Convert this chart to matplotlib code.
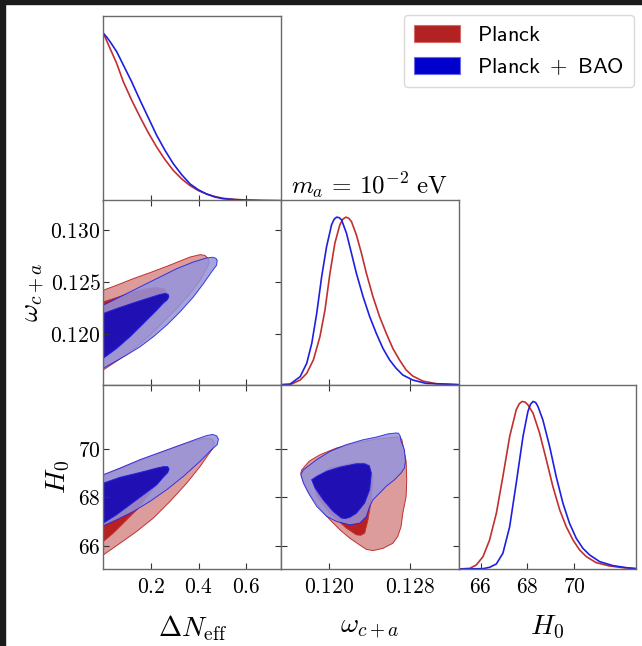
import numpy as np
import matplotlib
matplotlib.use("Agg")
import matplotlib.pyplot as plt
from matplotlib.patches import Rectangle, Patch

plt.rcParams["mathtext.fontset"] = "cm"
plt.rcParams["font.family"] = ["DejaVu Sans"]

# ---- 1D marginals ----
dneff_x_pl = [0, .014, .028, .042, .056, .070, .084, .119, .154, .189, .224, .259, .294, .329, .364, .399, .433, .468, .503, .552, .601, .67, .745]
dneff_p_pl = [1, .955, .91, .865, .82, .765, .71, .60, .50, .405, .32, .245, .18, .13, .09, .06, .04, .025, .014, .008, .004, .001, 0]
dneff_x_bao = [0, .014, .028, .042, .056, .070, .084, .119, .154, .189, .224, .259, .294, .329, .364, .399, .433, .468, .503, .552, .601, .67, .745]
dneff_p_bao = [1, .977, .95, .92, .89, .85, .81, .71, .60, .495, .39, .30, .22, .155, .10, .065, .04, .022, .012, .006, .003, .001, 0]

om_x_pl = [.1152, .11611, .11710, .11775, .11841, .11906, .11956, .12005, .12054, .12103, .12132, .12162, .12190, .12218,
           .12267, .12317, .12366, .12431, .12497, .12563, .12628, .12694, .12760, .12825, .12924, .13055, .1328]
om_p_pl = [0, 0, .028, .068, .148, .287, .446, .665, .845, .954, .987, 1.0, .994, .974,
           .894, .785, .665, .526, .406, .307, .217, .148, .088, .052, .022, .006, 0]
om_x_bao = [.1152, .11611, .11710, .11775, .11825, .11874, .11923, .11972, .12021, .12046, .12071, .12096, .12120, .12169,
            .12218, .12267, .12333, .12399, .12464, .12530, .12596, .12661, .12727, .12825, .12956, .1328]
om_p_bao = [0, .004, .048, .128, .247, .426, .645, .825, .954, .987, 1.0, .997, .984, .904,
            .785, .665, .526, .406, .307, .217, .148, .098, .058, .028, .008, 0]

h0_x_pl = [65.05, 65.53, 65.81, 66.10, 66.38, 66.67, 66.95, 67.24, 67.52, 67.65, 67.77, 67.90, 68.02, 68.24, 68.52,
           68.81, 69.09, 69.38, 69.66, 69.95, 70.23, 70.52, 70.94, 71.51, 72.08, 72.65]
h0_p_pl = [0, .004, .024, .074, .173, .333, .552, .791, .950, .986, 1.0, .996, .980, .930, .811,
           .651, .492, .353, .253, .173, .114, .074, .038, .018, .008, .002]
h0_x_bao = [65.05, 66.10, 66.38, 66.67, 66.95, 67.24, 67.52, 67.81, 68.02, 68.13, 68.24, 68.35, 68.45, 68.66, 68.95,
            69.23, 69.52, 69.80, 70.09, 70.37, 70.66, 71.09, 71.66, 72.23, 72.65]
h0_p_bao = [0, .002, .010, .030, .094, .253, .512, .791, .940, .983, 1.0, .994, .970, .890, .731,
            .552, .392, .273, .183, .124, .084, .044, .020, .008, .002]

# ---- 2D contours (68% / 95% outlines) ----
no_pl95_x = [0, .056, .126, .196, .266, .322, .364, .406, .426, .440, .445, .433, .406, .364, .308, .252, .196, .140, .084, .042, 0]
no_pl95_y = [.12422, .12470, .12533, .12590, .12650, .12701, .12739, .12762, .12755, .12724, .12682, .12628, .12517,
             .12390, .12247, .12120, .11993, .11882, .11788, .11724, .11661]
no_pl68_x = [0, .056, .126, .182, .224, .252, .266, .252, .210, .154, .098, .042, 0]
no_pl68_y = [.12311, .12352, .12406, .12438, .12447, .12438, .12406, .12358, .12263, .12136, .12009, .11899, .11835]
no_bao95_x = [0, .042, .098, .168, .238, .308, .378, .433, .458, .472, .478, .475, .454, .420, .378, .322, .266, .210, .154, .098, .049, 0]
no_bao95_y = [.12279, .12327, .12390, .12470, .12549, .12628, .12692, .12730, .12737, .12728, .12708, .12660, .12596, .12485,
              .12358, .12216, .12089, .11978, .11882, .11803, .11740, .11677]
no_bao68_x = [0, .056, .126, .196, .238, .262, .273, .275, .268, .252, .224, .168, .112, .056, 0]
no_bao68_y = [.12200, .12247, .12301, .12352, .12382, .12392, .12380, .12358, .12330, .12300, .12231, .12104, .11978, .11866, .11772]

nh_pl95_x = [0, .070, .154, .238, .322, .392, .425, .447, .461, .465, .458, .440, .406, .350, .280, .210, .140, .070, 0]
nh_pl95_y = [68.90, 69.20, 69.53, 69.83, 70.14, 70.36, 70.43, 70.43, 70.36, 70.22, 70.00, 69.76, 69.28, 68.59, 67.84, 67.15, 66.60, 66.11, 65.63]
nh_pl68_x = [0, .070, .154, .224, .246, .252, .238, .196, .140, .084, .042, 0]
nh_pl68_y = [68.32, 68.59, 68.94, 69.14, 69.14, 69.05, 68.73, 68.18, 67.49, 66.94, 66.53, 66.18]
nh_bao95_x = [0, .070, .154, .238, .322, .392, .433, .458, .476, .483, .478, .454, .406, .336, .266, .196, .126, .056, 0]
nh_bao95_y = [68.94, 69.21, 69.56, 69.86, 70.16, 70.41, 70.55, 70.60, 70.54, 70.40, 70.18, 69.97, 69.49, 68.87, 68.32, 67.84, 67.42, 67.08, 66.83]
nh_bao68_x = [0, .070, .154, .224, .252, .270, .276, .270, .254, .224, .168, .112, .056, 0]
nh_bao68_y = [68.59, 68.83, 69.03, 69.21, 69.27, 69.27, 69.17, 69.02, 68.86, 68.52, 68.11, 67.70, 67.29, 66.94]

oh_pl95_x = [.11726, .11800, .11906, .12071, .12267, .12464, .12661, .12700, .12718, .12727, .12760, .12766, .12760, .12727, .12710,
             .12677, .12628, .12530, .12431, .12366, .12300, .12202, .12103, .12005, .11906, .11808, .11742, .11716]
oh_pl95_y = [69.14, 69.50, 69.76, 70.04, 70.25, 70.41, 70.49, 70.48, 70.38, 70.18, 69.49, 68.73, 68.04, 67.35, 66.80,
             66.39, 66.11, 65.90, 65.81, 65.86, 66.04, 66.32, 66.67, 67.08, 67.56, 68.11, 68.66, 69.01]
oh_pl68_x = [.11841, .12005, .12235, .12340, .12399, .12431, .12415, .12382, .12349, .12310, .12267, .12169, .12005, .11874]
oh_pl68_y = [68.73, 69.21, 69.42, 69.42, 69.35, 68.73, 67.90, 67.08, 66.53, 66.44, 66.46, 66.73, 67.35, 68.04]
oh_bao95_x = [.11716, .11742, .11874, .12005, .12169, .12333, .12464, .12579, .12661, .12684, .12700, .12710, .12743, .12753, .12743,
              .12710, .12645, .12563, .12497, .12431, .12399, .12366, .12300, .12202, .12071, .11972, .11874, .11792, .11742]
oh_bao95_y = [68.94, 69.14, 69.56, 69.90, 70.18, 70.38, 70.49, 70.62, 70.66, 70.65, 70.55, 70.32, 69.97, 69.49, 69.21,
              69.01, 68.73, 68.46, 68.18, 67.90, 67.63, 67.22, 66.94, 66.87, 67.01, 67.22, 67.63, 68.18, 68.59]
oh_bao68_x = [.11824, .11874, .11972, .12103, .12267, .12350, .12395, .12415, .12399, .12349, .12267, .12202, .12160, .12120, .12038, .11939, .11857]
oh_bao68_y = [68.73, 68.87, 69.08, 69.25, 69.39, 69.39, 69.30, 69.01, 68.32, 67.77, 67.35, 67.18, 67.13, 67.15, 67.42, 67.90, 68.39]

# ---- axes ranges / ticks ----
dneff_lim = (0, 0.745)
om_lim = (0.1152, 0.1328)
h0_lim = (65.05, 72.65)
dneff_ticks = [0.2, 0.4, 0.6]
dneff_ticklabels = ["0.2", "0.4", "0.6"]
om_xticks = [0.120, 0.128]
om_xticklabels = ["0.120", "0.128"]
om_yticks = [0.120, 0.125, 0.130]
om_yticklabels = ["0.120", "0.125", "0.130"]
h0_ticks = [66, 68, 70]
h0_ticklabels = ["66", "68", "70"]
legend_labels = [r"$\mathsf{Planck}$", r"$\mathsf{Planck}\ +\ \mathsf{BAO}$"]

RED_LINE, BLUE_LINE = "#C0302F", "#1F1FE0"
W, H = 642, 646
fig = plt.figure(figsize=(W / 100, H / 100), dpi=100)


def px_axes(x0, y_bottom, w, h):
    return fig.add_axes([x0 / W, 1 - y_bottom / H, w / W, h / H])


cols = [103.3, 281.0, 458.5]
bottoms = [200.7, 384.7, 569.0]
cw, rh = 177.6, 184.3

ax_n = px_axes(cols[0], bottoms[0], cw, rh)
ax_no = px_axes(cols[0], bottoms[1], cw, rh)
ax_o = px_axes(cols[1], bottoms[1], cw, rh)
ax_nh = px_axes(cols[0], bottoms[2], cw, rh)
ax_oh = px_axes(cols[1], bottoms[2], cw, rh)
ax_h = px_axes(cols[2], bottoms[2], cw, rh)


def frame(ax):
    for sp in ax.spines.values():
        sp.set_color("#6a6a6a")
        sp.set_linewidth(1.0)


def math(labels):
    return [f"${s}$" for s in labels]


# 1D panels
for ax, xs, ps, lim, ticks, tl in [
        (ax_n, (dneff_x_pl, dneff_x_bao), (dneff_p_pl, dneff_p_bao), dneff_lim, dneff_ticks, dneff_ticklabels),
        (ax_o, (om_x_pl, om_x_bao), (om_p_pl, om_p_bao), om_lim, om_xticks, om_xticklabels),
        (ax_h, (h0_x_pl, h0_x_bao), (h0_p_pl, h0_p_bao), h0_lim, h0_ticks, h0_ticklabels)]:
    ax.plot(xs[0], ps[0], color=RED_LINE, lw=1.2, solid_joinstyle="round")
    ax.plot(xs[1], ps[1], color=BLUE_LINE, lw=1.2, solid_joinstyle="round")
    ax.set_xlim(lim)
    ax.set_ylim(0, 1.1)
    ax.set_yticks([])
    ax.set_xticks(ticks)
    ax.set_xticklabels(math(tl))
    ax.tick_params(axis="x", direction="in", length=4, width=0.8, color="#333333",
                   labelsize=15.5, pad=5.5, labelbottom=(ax is ax_h))
    frame(ax)


def fill_pair(ax, x95, y95, x68, y68, face95, face68, a95, a68, edge):
    ax.fill(x95, y95, facecolor=face95, alpha=a95, edgecolor=edge, lw=0.7, joinstyle="round")
    ax.fill(x68, y68, facecolor=face68, alpha=a68, edgecolor=edge, lw=0.7, joinstyle="round")


panels = [
    (ax_no, (no_pl95_x, no_pl95_y, no_pl68_x, no_pl68_y), (no_bao95_x, no_bao95_y, no_bao68_x, no_bao68_y),
     dneff_lim, om_lim, (dneff_ticks, dneff_ticklabels), (om_yticks, om_yticklabels)),
    (ax_nh, (nh_pl95_x, nh_pl95_y, nh_pl68_x, nh_pl68_y), (nh_bao95_x, nh_bao95_y, nh_bao68_x, nh_bao68_y),
     dneff_lim, h0_lim, (dneff_ticks, dneff_ticklabels), (h0_ticks, h0_ticklabels)),
    (ax_oh, (oh_pl95_x, oh_pl95_y, oh_pl68_x, oh_pl68_y), (oh_bao95_x, oh_bao95_y, oh_bao68_x, oh_bao68_y),
     om_lim, h0_lim, (om_xticks, om_xticklabels), (h0_ticks, h0_ticklabels)),
]
for ax, pl, bao, xl, yl, xt, yt in panels:
    fill_pair(ax, *pl, "#DC9C9C", "#B81A1A", 1.0, 0.95, RED_LINE)
    fill_pair(ax, *bao, "#9494DC", "#1A0AB4", 0.85, 0.95, BLUE_LINE)
    ax.set_xlim(xl)
    ax.set_ylim(yl)
    ax.set_xticks(xt[0])
    ax.set_xticklabels(math(xt[1]))
    ax.set_yticks(yt[0])
    ax.set_yticklabels(math(yt[1]))
    ax.tick_params(direction="in", top=True, right=True, length=4, width=0.8, color="#333333", labelsize=15.5)
    ax.tick_params(axis="x", pad=5.5)
    ax.tick_params(axis="y", pad=2)
    frame(ax)

ax_no.tick_params(labelbottom=False)
ax_oh.tick_params(labelleft=False)

ax_no.set_ylabel(r"$\omega_{c+a}$", fontsize=20, labelpad=2)
ax_nh.set_ylabel(r"$H_0$", fontsize=20, labelpad=4)
ax_nh.set_xlabel(r"$\Delta N_{\rm eff}$", fontsize=20, labelpad=12)
ax_oh.set_xlabel(r"$\omega_{c+a}$", fontsize=20, labelpad=12)
ax_h.set_xlabel(r"$H_0$", fontsize=20, labelpad=12)
ax_o.set_title(r"$m_a\,=\,10^{-2}\ \mathrm{eV}$", fontsize=18, pad=5)

handles = [Patch(facecolor="#B22222", edgecolor="#D46A6A", lw=0.8),
           Patch(facecolor="#0000CD", edgecolor="#6A6AE6", lw=0.8)]
leg = fig.legend(handles, legend_labels, loc="upper right", bbox_to_anchor=(634 / W, 1 - 15 / H),
                 borderaxespad=0, fontsize=16, handlelength=2.1, handleheight=0.8,
                 handletextpad=0.75, labelspacing=0.5, borderpad=0.45, fancybox=True)
leg.get_frame().set_edgecolor("#d0d0d0")
leg.get_frame().set_linewidth(1.0)

# dark screenshot border on the left and top edges
fig.patches.append(Rectangle((0, 0), 5 / W, 1, transform=fig.transFigure, color="#1b1b1b", zorder=10))
fig.patches.append(Rectangle((0, 1 - 4 / H), 1, 4 / H, transform=fig.transFigure, color="#1b1b1b", zorder=10))

fig.savefig("out.png", dpi=100)
